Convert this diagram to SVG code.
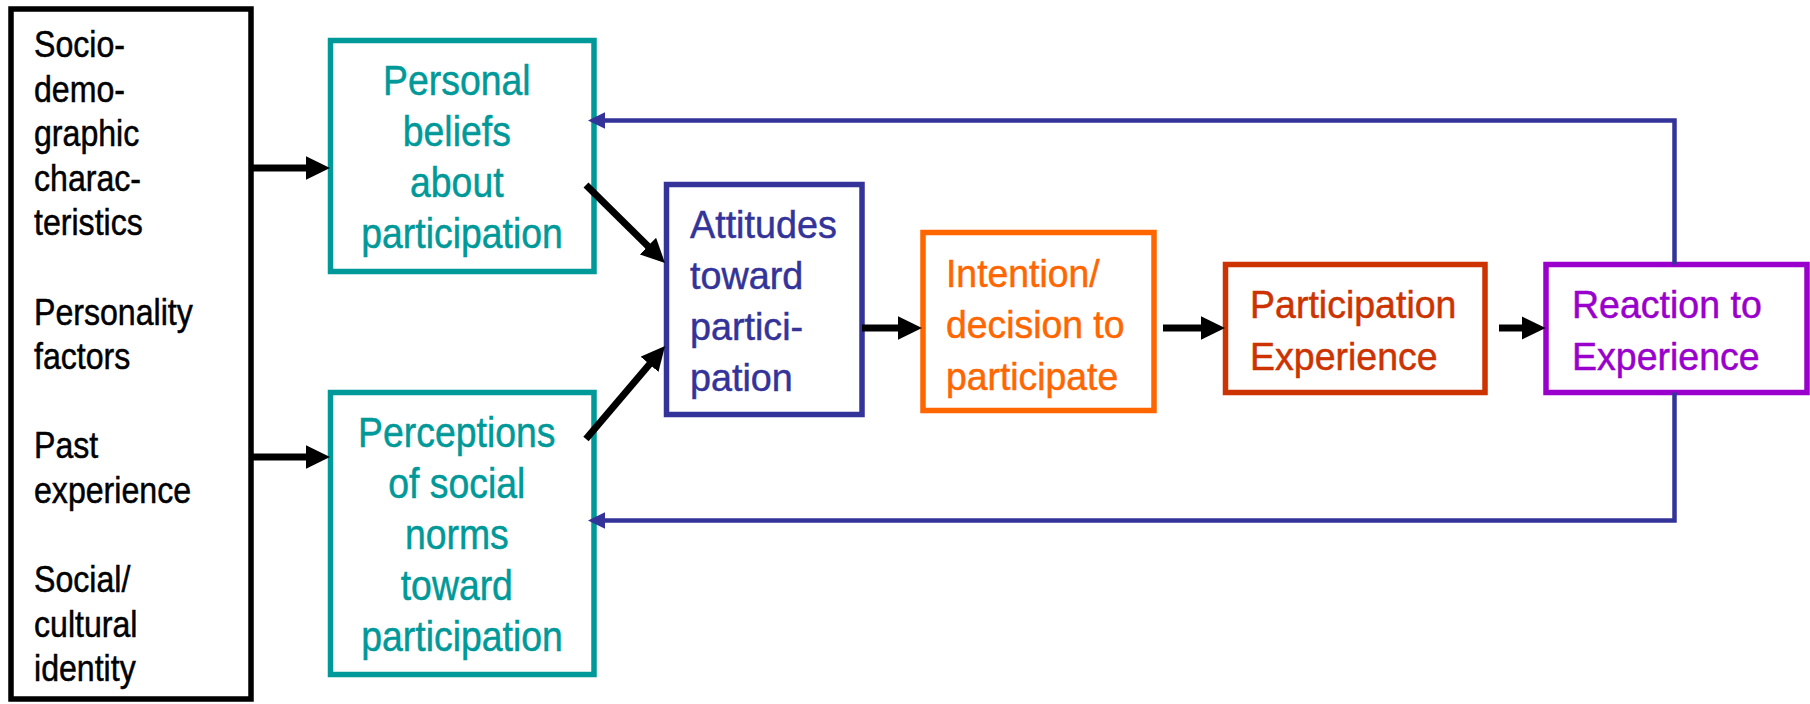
<svg xmlns="http://www.w3.org/2000/svg" width="1810" height="704" viewBox="0 0 1810 704">
<style>
  .box { fill: #ffffff; stroke-width: 5.5; }
  .t { font-family: "Liberation Sans", Arial, sans-serif; stroke-width: 0.5; }
  .left { font-size: 36.5px; fill: #000000; stroke: #000000; }
  .teal { font-size: 42px; fill: #009999; stroke: #009999; }
  .navy { font-size: 39.5px; fill: #333399; stroke: #333399; }
  .orange { font-size: 38.5px; fill: #FF6600; stroke: #FF6600; }
  .red { font-size: 39.5px; fill: #CC3300; stroke: #CC3300; }
  .purple { font-size: 39.5px; fill: #9900CC; stroke: #9900CC; }
  .blk { stroke: #000000; stroke-width: 7; fill: none; }
  .fb { stroke: #333399; stroke-width: 4.5; fill: none; stroke-linejoin: miter; }
</style>
<defs>
  <marker id="ah" markerUnits="userSpaceOnUse" markerWidth="24" markerHeight="24" refX="2" refY="11.7" orient="auto">
    <path d="M0,0 L24,11.7 L0,23.4 z" fill="#000000"/>
  </marker>
  <marker id="ahb" markerUnits="userSpaceOnUse" markerWidth="17" markerHeight="17" refX="1" refY="8.35" orient="auto">
    <path d="M0,0 L17,8.35 L0,16.7 z" fill="#333399"/>
  </marker>
</defs>
<rect width="1810" height="704" fill="#ffffff"/>

<g id="factors">
  <rect class="box" x="11" y="9" width="240" height="690" stroke="#000000" stroke-width="6"/>
  <text class="t left" transform="translate(34,0) scale(0.88,1)">
    <tspan x="0" y="57">Socio-</tspan>
    <tspan x="0" y="101.6">demo-</tspan>
    <tspan x="0" y="146.2">graphic</tspan>
    <tspan x="0" y="190.8">charac-</tspan>
    <tspan x="0" y="235.4">teristics</tspan>
    <tspan x="0" y="324.6">Personality</tspan>
    <tspan x="0" y="369.2">factors</tspan>
    <tspan x="0" y="458.4">Past</tspan>
    <tspan x="0" y="503">experience</tspan>
    <tspan x="0" y="592.2">Social/</tspan>
    <tspan x="0" y="636.8">cultural</tspan>
    <tspan x="0" y="681.4">identity</tspan>
  </text>
</g>

<g id="beliefs">
  <rect class="box" x="330.5" y="40.5" width="263.5" height="231" stroke="#009999"/>
  <text class="t teal" text-anchor="middle" transform="translate(462,0) scale(0.89,1)">
    <tspan x="0" y="95">Personal</tspan>
    <tspan x="0" y="146">beliefs</tspan>
    <tspan x="0" y="197">about</tspan>
    <tspan x="0" y="248">participation</tspan>
  </text>
</g>

<g id="norms">
  <rect class="box" x="330.5" y="392.5" width="263.5" height="282" stroke="#009999"/>
  <text class="t teal" text-anchor="middle" transform="translate(462,0) scale(0.89,1)">
    <tspan x="0" y="447">Perceptions</tspan>
    <tspan x="0" y="498">of social</tspan>
    <tspan x="0" y="549">norms</tspan>
    <tspan x="0" y="600">toward</tspan>
    <tspan x="0" y="651">participation</tspan>
  </text>
</g>

<g id="attitudes">
  <rect class="box" x="666.5" y="184.5" width="195.5" height="230" stroke="#333399"/>
  <text class="t navy" transform="translate(690,0) scale(0.955,1)">
    <tspan x="0" y="238">Attitudes</tspan>
    <tspan x="0" y="289">toward</tspan>
    <tspan x="0" y="340">partici-</tspan>
    <tspan x="0" y="391">pation</tspan>
  </text>
</g>

<g id="intention">
  <rect class="box" x="923" y="232.5" width="231" height="178" stroke="#FF6600"/>
  <text class="t orange" transform="translate(946,0) scale(0.97,1)">
    <tspan x="0" y="287">Intention/</tspan>
    <tspan x="0" y="338.5">decision to</tspan>
    <tspan x="0" y="390">participate</tspan>
  </text>
</g>

<g id="experience">
  <rect class="box" x="1225.5" y="264.5" width="259.5" height="128" stroke="#CC3300"/>
  <text class="t red" transform="translate(1250,0) scale(0.95,1)">
    <tspan x="0" y="318">Participation</tspan>
    <tspan x="0" y="370">Experience</tspan>
  </text>
</g>

<g id="reaction">
  <rect class="box" x="1546" y="264.5" width="261" height="128" stroke="#9900CC"/>
  <text class="t purple" transform="translate(1572,0) scale(0.95,1)">
    <tspan x="0" y="318">Reaction to</tspan>
    <tspan x="0" y="370">Experience</tspan>
  </text>
</g>

<g id="connectors">
  <line class="blk" x1="251" y1="168" x2="308" y2="168" marker-end="url(#ah)"/>
  <line class="blk" x1="251" y1="457" x2="308" y2="457" marker-end="url(#ah)"/>
  <line class="blk" x1="586" y1="185" x2="649.3" y2="247.5" marker-end="url(#ah)"/>
  <line class="blk" x1="586" y1="439" x2="650.8" y2="362.8" marker-end="url(#ah)"/>
  <line class="blk" x1="862" y1="328" x2="900" y2="328" marker-end="url(#ah)"/>
  <line class="blk" x1="1163" y1="328" x2="1203" y2="328" marker-end="url(#ah)"/>
  <line class="blk" x1="1499" y1="328" x2="1523.6" y2="328" marker-end="url(#ah)"/>
  <path class="fb" d="M1674.5,264.5 V120.5 H604" marker-end="url(#ahb)"/>
  <path class="fb" d="M1674.5,392.5 V520.5 H604" marker-end="url(#ahb)"/>
</g>
</svg>
